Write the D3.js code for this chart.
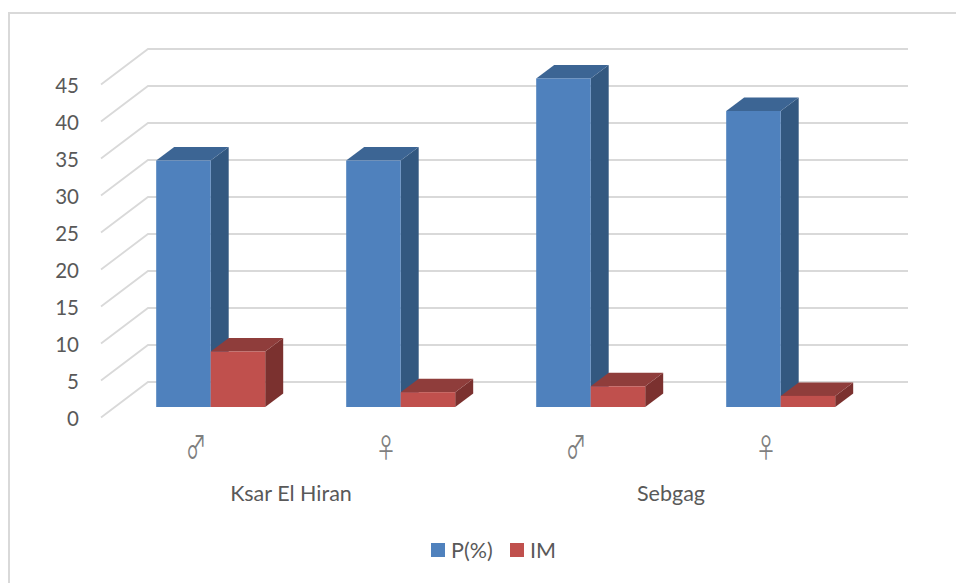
<!DOCTYPE html>
<html>
<head>
<meta charset="utf-8">
<script src="https://cdn.jsdelivr.net/npm/d3@7"></script>
<style>
html,body{margin:0;padding:0;background:#fff}
svg{display:block}
text{font-family:Lato,"Open Sans",sans-serif;fill:#595959}
</style>
</head>
<body>
<svg id="chart" width="956" height="583"></svg>
<script>
const sites = ["Ksar El Hiran", "Sebgag"];
const sexes = ["♂", "♀", "♂", "♀"];
const sexSite = [0, 0, 1, 1];
const seriesNames = ["P(%)", "IM"];
const prevalence = [33.3, 33.3, 44.4, 40];
const meanIntensity = [7.5, 2, 2.8, 1.5];
const yTicks = [0, 5, 10, 15, 20, 25, 30, 35, 40, 45];

const palette = {
  "P(%)": {front: "#4f81bd", top: "#3c6594", side: "#335880"},
  "IM": {front: "#c0504d", top: "#8f3d3b", side: "#7b312f"}
};

// Oblique projection: the floor runs from the front edge (z=0) to the back wall (z=1).
const wall = {dx: 47, dy: -35.5};
const barDepth = {dx: 18, dy: -13.5};
const barFloor = {dx: 14.7, dy: -10.5};

const svg = d3.select("#chart");
const y = d3.scaleLinear().domain([0, 45]).range([417.5, 84.5]);
const x = d3.scaleBand().domain(d3.range(sexes.length)).range([101, 861]);
const inner = d3.scaleBand().domain(seriesNames).range([0, x.bandwidth()]).paddingInner(0).paddingOuter(0.743);

// chart frame, running off the right and bottom of the page
svg.append("rect").attr("x", 9).attr("y", 13).attr("width", 970).attr("height", 600)
  .attr("fill", "#fff").attr("stroke", "#d9d9d9").attr("stroke-width", 2);

// gridlines: floor diagonal plus back wall run
const grid = svg.append("g").attr("fill", "none").attr("stroke", "#d9d9d9").attr("stroke-width", 1.8);
grid.selectAll("path").data(yTicks).join("path")
  .attr("d", d => {
    const p = d3.path();
    p.moveTo(x.range()[0], y(d));
    p.lineTo(x.range()[0] + wall.dx, y(d) + wall.dy);
    p.lineTo(x.range()[1] + wall.dx, y(d) + wall.dy);
    return p.toString();
  });

// value labels
svg.append("g").selectAll("text").data(yTicks).join("text")
  .attr("x", 79).attr("y", d => y(d)).attr("dy", "0.4em")
  .attr("text-anchor", "end").attr("font-size", 20.5).text(d => d);

// one extruded bar: side, top, then front face
function drawBar(g, name, i, value) {
  const c = palette[name];
  const x0 = x(i) + inner(name) + barFloor.dx;
  const x1 = x0 + inner.bandwidth();
  const base = y(0) + barFloor.dy;
  const top = base - (y(0) - y(value));
  const {dx, dy} = barDepth;
  const poly = pts => pts.map(p => p.join(",")).join(" ");
  g.append("polygon").attr("fill", c.side)
    .attr("points", poly([[x1, top], [x1 + dx, top + dy], [x1 + dx, base + dy], [x1, base]]));
  g.append("polygon").attr("fill", c.top)
    .attr("points", poly([[x0, top], [x0 + dx, top + dy], [x1 + dx, top + dy], [x1, top]]));
  g.append("rect").attr("fill", c.front)
    .attr("x", x0).attr("y", top).attr("width", x1 - x0).attr("height", base - top);
}

const bars = svg.append("g");
sexes.forEach((_, i) => {
  drawBar(bars, "P(%)", i, prevalence[i]);
  drawBar(bars, "IM", i, meanIntensity[i]);
});

// sex symbols, condensed horizontally
svg.append("g").selectAll("text").data(sexes).join("text")
  .attr("transform", (d, i) => `translate(${x(i) + x.bandwidth() / 2},458) scale(0.76,${d === "♂" ? 1.12 : 1})`)
  .attr("text-anchor", "middle").attr("font-size", 27)
  .style("font-family", "'Noto Sans CJK JP'").style("fill", "#7f7f7f").text(d => d);

// site labels centred under their pair of categories
svg.append("g").selectAll("text").data(sites).join("text")
  .attr("x", (d, s) => d3.mean(sexSite.flatMap((v, i) => v === s ? [x(i) + x.bandwidth() / 2] : [])))
  .attr("y", 501).attr("text-anchor", "middle").attr("font-size", 21.5).text(d => d);

// legend
const legendX = [431, 510];
const legend = svg.append("g").selectAll("g").data(seriesNames).join("g")
  .attr("transform", (d, i) => `translate(${legendX[i]},543)`);
legend.append("rect").attr("width", 14).attr("height", 14).attr("fill", d => palette[d].front);
legend.append("text").attr("x", 20).attr("y", 14.5).attr("font-size", 21.5).text(d => d);
</script>
</body>
</html>
